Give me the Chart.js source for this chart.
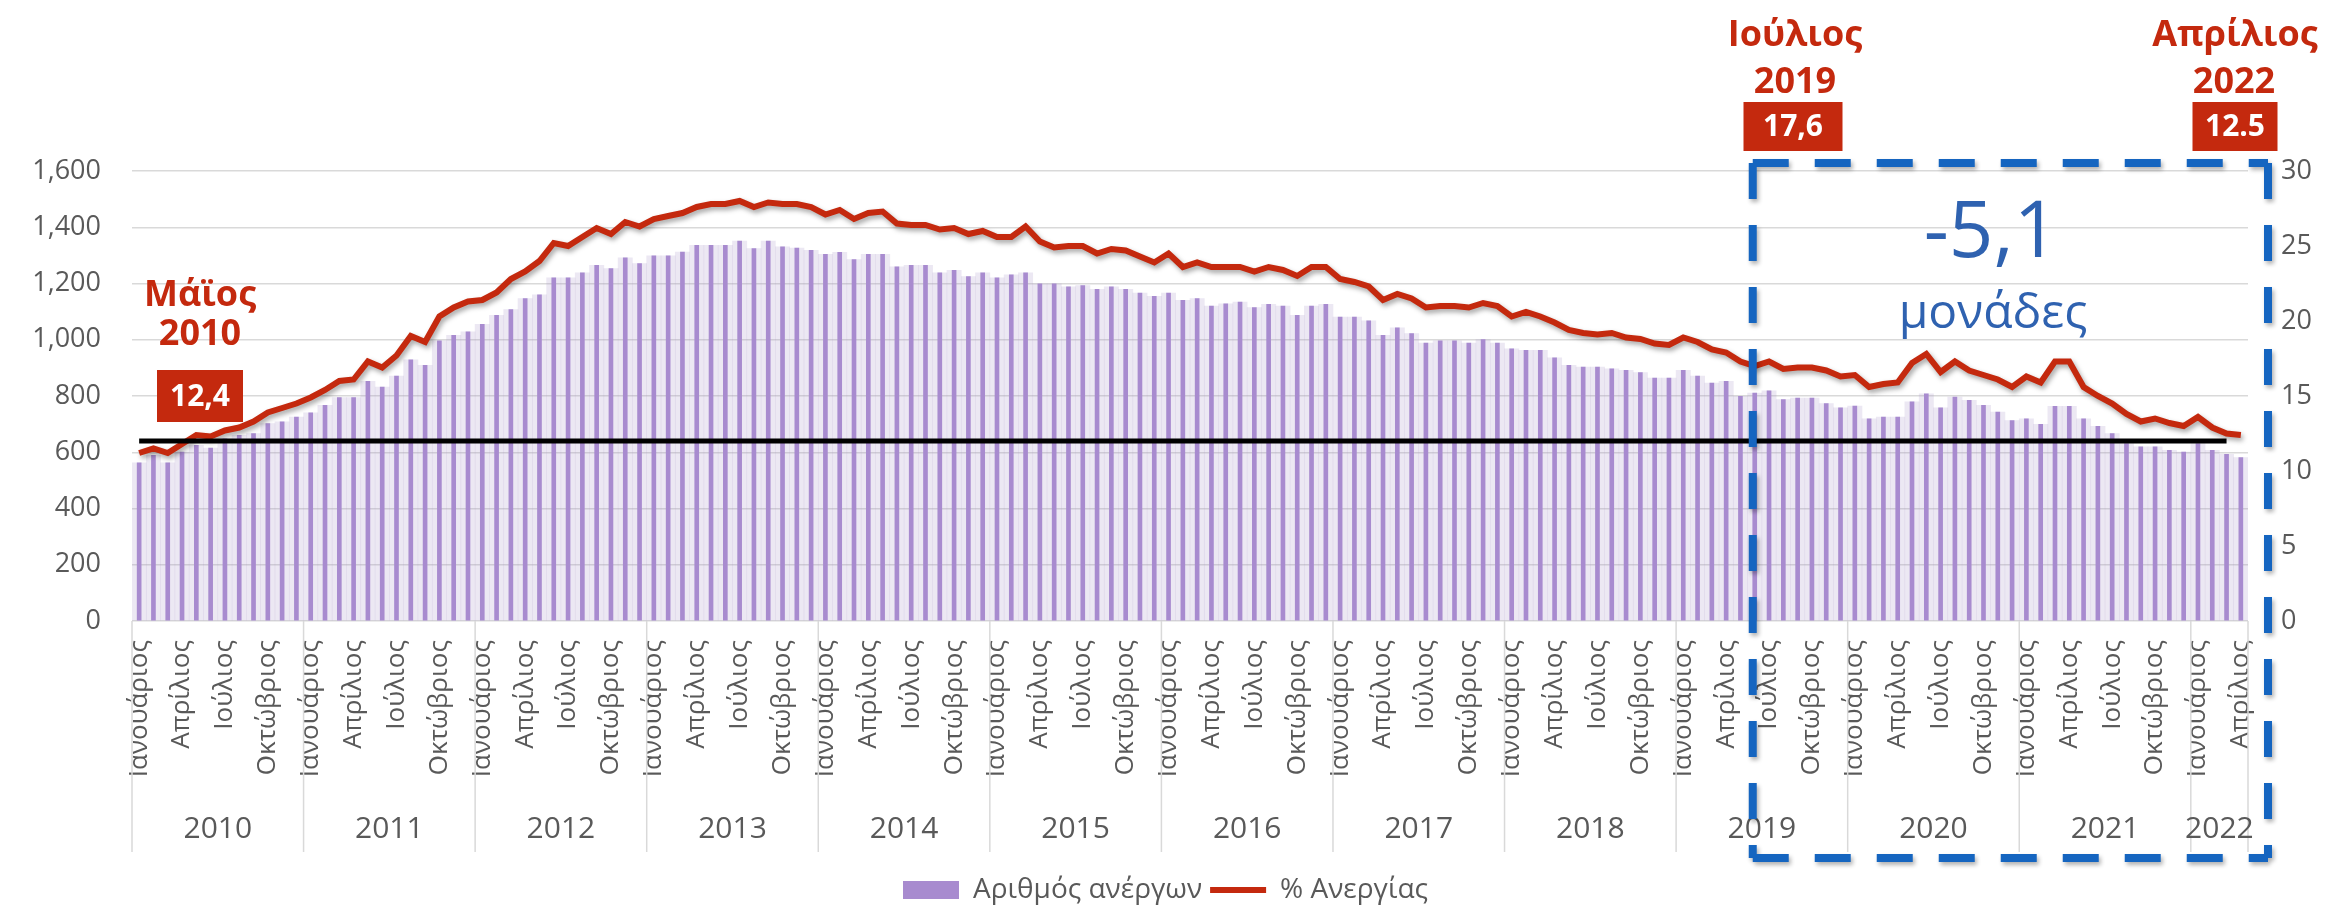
<!DOCTYPE html>
<html>
<head>
<meta charset="utf-8">
<script src="https://cdn.jsdelivr.net/npm/chart.js@4.4.0/dist/chart.umd.min.js"></script>
<style>
  html, body { margin: 0; padding: 0; background: #fff; }
  #wrap { width: 2331px; height: 908px; }
</style>
</head>
<body>
<div id="wrap"><canvas id="chart" width="2331" height="908"></canvas></div>
<script>
const monthNames = ['Ιανουάριος', 'Φεβρουάριος', 'Μάρτιος', 'Απρίλιος', 'Μάιος', 'Ιούνιος',
  'Ιούλιος', 'Αύγουστος', 'Σεπτέμβριος', 'Οκτώβριος', 'Νοέμβριος', 'Δεκέμβριος'];
const years = [2010, 2011, 2012, 2013, 2014, 2015, 2016, 2017, 2018, 2019, 2020, 2021, 2022];
const monthsInLastYear = 4;

// Αριθμός ανέργων (χιλιάδες), Ιαν 2010 - Απρ 2022
const unemployed = [
  562, 589, 562, 601, 625, 615, 648, 660, 666, 702, 708, 725,
  740, 767, 794, 794, 852, 832, 871, 929, 909, 996, 1016, 1028,
  1055, 1087, 1107, 1146, 1160, 1220, 1220, 1238, 1265, 1253, 1291, 1271,
  1298, 1298, 1312, 1336, 1336, 1336, 1351, 1324, 1351, 1330, 1326, 1318,
  1304, 1311, 1285, 1304, 1304, 1259, 1265, 1265, 1238, 1247, 1225, 1238,
  1220, 1231, 1238, 1199, 1199, 1188, 1193, 1179, 1188, 1179, 1166, 1154,
  1166, 1140, 1146, 1120, 1128, 1134, 1114, 1126, 1120, 1087, 1120, 1126,
  1081, 1081, 1067, 1016, 1042, 1022, 988, 996, 996, 988, 1001, 988,
  968, 962, 962, 936, 909, 903, 903, 897, 891, 883, 864, 864,
  891, 871, 846, 852, 799, 810, 818, 787, 793, 793, 773, 758,
  764, 719, 725, 725, 779, 808, 758, 796, 785, 767, 743, 713,
  719, 699, 763, 763, 719, 692, 666, 631, 619, 619, 607, 601,
  631, 607, 593, 581
];

// % Ανεργίας
const unemploymentRate = [
  11.2, 11.5, 11.2, 11.8, 12.4, 12.3, 12.7, 12.9, 13.3, 13.9, 14.2, 14.5,
  14.9, 15.4, 16.0, 16.1, 17.3, 16.9, 17.7, 19.0, 18.6, 20.3, 20.9, 21.3,
  21.4, 21.9, 22.8, 23.3, 24.0, 25.2, 25.0, 25.6, 26.2, 25.8, 26.6, 26.3,
  26.8, 27.0, 27.2, 27.6, 27.8, 27.8, 28.0, 27.6, 27.9, 27.8, 27.8, 27.6,
  27.1, 27.4, 26.8, 27.2, 27.3, 26.5, 26.4, 26.4, 26.1, 26.2, 25.8, 26.0,
  25.6, 25.6, 26.3, 25.3, 24.9, 25.0, 25.0, 24.5, 24.8, 24.7, 24.3, 23.9,
  24.5, 23.6, 23.9, 23.6, 23.6, 23.6, 23.3, 23.6, 23.4, 23.0, 23.6, 23.6,
  22.8, 22.6, 22.3, 21.4, 21.8, 21.5, 20.9, 21.0, 21.0, 20.9, 21.2, 21.0,
  20.3, 20.6, 20.3, 19.9, 19.4, 19.2, 19.1, 19.2, 18.9, 18.8, 18.5, 18.4,
  18.9, 18.6, 18.1, 17.9, 17.3, 17.0, 17.3, 16.8, 16.9, 16.9, 16.7, 16.3,
  16.4, 15.6, 15.8, 15.9, 17.2, 17.8, 16.6, 17.3, 16.7, 16.4, 16.1, 15.6,
  16.3, 15.9, 17.3, 17.3, 15.6, 15.0, 14.5, 13.8, 13.3, 13.5, 13.2, 13.0,
  13.6, 12.9, 12.5, 12.4
];

const refLevel = 12;      // οριζόντια μαύρη γραμμή
const refLastIndex = 146;
const leftTicks = [0, 1600, 200];
const rightTicks = [0, 30, 5];

const purple = '#a88bcf';
const lavender = 'rgba(170, 150, 200, 0.22)';
const red = '#c4290e';
const blue = '#1565c0';
const grey = '#595959';
const FONT = "'Open Sans', 'Noto Sans', sans-serif";

// one category per month
const labels = [];
years.forEach((y, yi) => {
  const n = yi === years.length - 1 ? monthsInLastYear : 12;
  for (let m = 0; m < n; m++) labels.push(monthNames[m]);
});
const refLine = labels.map((_, i) => i <= refLastIndex ? refLevel : null);

const lineShadow = {
  id: 'lineShadow',
  beforeDatasetDraw(chart, args) {
    if (args.index !== 1) return;
    const ctx = chart.ctx;
    ctx.save();
    ctx.shadowColor = 'rgba(0,0,0,0.35)';
    ctx.shadowBlur = 5;
    ctx.shadowOffsetX = 2;
    ctx.shadowOffsetY = 3;
  },
  afterDatasetDraw(chart, args) {
    if (args.index === 1) chart.ctx.restore();
  }
};

function labelBox(ctx, text, cx, top, w, h) {
  ctx.fillStyle = red;
  ctx.fillRect(cx - w / 2, top, w, h);
  ctx.fillStyle = '#fff';
  ctx.font = 'bold 30px ' + FONT;
  ctx.textAlign = 'center';
  ctx.textBaseline = 'middle';
  ctx.fillText(text, cx, top + h / 2 + 1);
}

const decorations = {
  id: 'decorations',
  afterDraw(chart) {
    const ctx = chart.ctx;
    const x = chart.scales.x;
    const area = chart.chartArea;
    const step = (area.right - area.left) / labels.length;

    // year groups under the month labels
    ctx.save();
    ctx.strokeStyle = '#d9d9d9';
    ctx.lineWidth = 1.5;
    ctx.fillStyle = grey;
    ctx.font = '30px ' + FONT;
    ctx.textAlign = 'center';
    ctx.textBaseline = 'middle';
    let start = 0;
    years.forEach((y, yi) => {
      const n = yi === years.length - 1 ? monthsInLastYear : 12;
      const x0 = x.getPixelForValue(start) - step / 2;
      const x1 = x.getPixelForValue(start + n - 1) + step / 2;
      ctx.beginPath();
      ctx.moveTo(x0, area.bottom);
      ctx.lineTo(x0, 852);
      ctx.stroke();
      if (yi === years.length - 1) {
        ctx.beginPath();
        ctx.moveTo(x1, area.bottom);
        ctx.lineTo(x1, 852);
        ctx.stroke();
      }
      ctx.fillText(String(y), (x0 + x1) / 2, 829);
      start += n;
    });
    ctx.restore();

    // annotations
    ctx.save();
    ctx.fillStyle = red;
    ctx.font = 'bold 36px ' + FONT;
    ctx.textAlign = 'center';
    ctx.textBaseline = 'alphabetic';
    ctx.fillText('Μάϊος', 200, 306);
    ctx.fillText('2010', 200, 345);
    ctx.fillText('Ιούλιος', 1795, 46);
    ctx.fillText('2019', 1795, 93);
    ctx.fillText('Απρίλιος', 2235, 46);
    ctx.fillText('2022', 2234, 93);
    labelBox(ctx, '12,4', 200, 370, 86, 52);
    labelBox(ctx, '17,6', 1793, 102, 99, 49);
    labelBox(ctx, '12.5', 2235, 102, 85, 49);
    ctx.restore();

    // dashed frame July 2019 - April 2022
    const left = x.getPixelForValue(113) - 2;
    const right = 2268, top = 163, bottom = 858;
    ctx.save();
    ctx.strokeStyle = blue;
    ctx.lineWidth = 8;
    ctx.setLineDash([36, 26]);
    ctx.shadowColor = 'rgba(0,0,0,0.3)';
    ctx.shadowBlur = 4;
    ctx.shadowOffsetX = 2;
    ctx.shadowOffsetY = 3;
    ctx.beginPath();
    ctx.moveTo(left, top); ctx.lineTo(right, top);
    ctx.moveTo(right, top); ctx.lineTo(right, bottom);
    ctx.moveTo(left, top); ctx.lineTo(left, bottom);
    ctx.moveTo(left, bottom); ctx.lineTo(right, bottom);
    ctx.stroke();
    ctx.restore();

    ctx.save();
    ctx.fillStyle = '#2f62b0';
    ctx.textAlign = 'center';
    ctx.textBaseline = 'alphabetic';
    ctx.font = '78px ' + FONT;
    ctx.fillText('-5,1', 1991, 257);
    ctx.font = '48px ' + FONT;
    ctx.fillText('μονάδες', 1993, 328);
    ctx.restore();
  }
};

new Chart(document.getElementById('chart').getContext('2d'), {
  data: {
    labels: labels,
    datasets: [
      {
        type: 'bar',
        label: 'Αριθμός ανέργων',
        data: unemployed,
        backgroundColor: purple,
        barThickness: 4,
        grouped: false,
        yAxisID: 'y',
        order: 3
      },
      {
        type: 'line',
        label: '% Ανεργίας',
        data: unemploymentRate,
        borderColor: red,
        backgroundColor: red,
        borderWidth: 6,
        pointRadius: 0,
        tension: 0,
        yAxisID: 'y1',
        order: 1
      },
      {
        type: 'bar',
        label: 'fill',
        data: unemployed,
        backgroundColor: lavender,
        barPercentage: 1,
        categoryPercentage: 1,
        grouped: false,
        yAxisID: 'y',
        order: 4
      },
      {
        type: 'line',
        label: 'ref',
        data: refLine,
        borderColor: '#000',
        borderWidth: 5,
        pointRadius: 0,
        yAxisID: 'y1',
        order: 0
      }
    ]
  },
  options: {
    responsive: false,
    animation: false,
    layout: { padding: { top: 171, left: 0, right: 0, bottom: -6 } },
    plugins: {
      tooltip: { enabled: false },
      legend: {
        position: 'bottom',
        labels: {
          color: grey,
          font: { family: FONT, size: 28 },
          usePointStyle: true,
          pointStyleWidth: 56,
          boxHeight: 18,
          padding: 8,
          filter: item => item.datasetIndex < 2,
          sort: (a, b) => a.datasetIndex - b.datasetIndex,
          generateLabels(chart) {
            const items = Chart.defaults.plugins.legend.labels.generateLabels(chart);
            items.forEach(it => {
              if (it.datasetIndex === 0) {
                it.pointStyle = 'rect'; it.fillStyle = purple; it.lineWidth = 0;
              } else if (it.datasetIndex === 1) {
                it.pointStyle = 'line'; it.strokeStyle = red; it.lineWidth = 6;
              }
            });
            return items;
          }
        }
      }
    },
    scales: {
      x: {
        grid: { display: false, drawTicks: false },
        border: { display: false },
        ticks: {
          autoSkip: false,
          minRotation: 90,
          maxRotation: 90,
          padding: 19,
          color: grey,
          font: { family: FONT, size: 26 },
          callback(v, i) { return i % 3 === 0 ? this.getLabelForValue(v) : ''; }
        },
        afterFit(scale) { scale.height = 247; }
      },
      y: {
        position: 'left',
        min: leftTicks[0], max: leftTicks[1],
        grid: { color: '#d9d9d9', lineWidth: 1.5, drawTicks: false },
        border: { display: false },
        ticks: {
          stepSize: leftTicks[2],
          padding: 31,
          color: grey,
          font: { family: FONT, size: 27 },
          callback: v => v.toLocaleString('en-US')
        },
        afterFit(scale) { scale.width = 132; }
      },
      y1: {
        position: 'right',
        min: rightTicks[0], max: rightTicks[1],
        grid: { drawOnChartArea: false, drawTicks: false },
        border: { display: false },
        ticks: {
          stepSize: rightTicks[2],
          padding: 33,
          color: grey,
          font: { family: FONT, size: 27 }
        },
        afterFit(scale) { scale.width = 83; }
      }
    }
  },
  plugins: [lineShadow, decorations]
});
</script>
</body>
</html>
